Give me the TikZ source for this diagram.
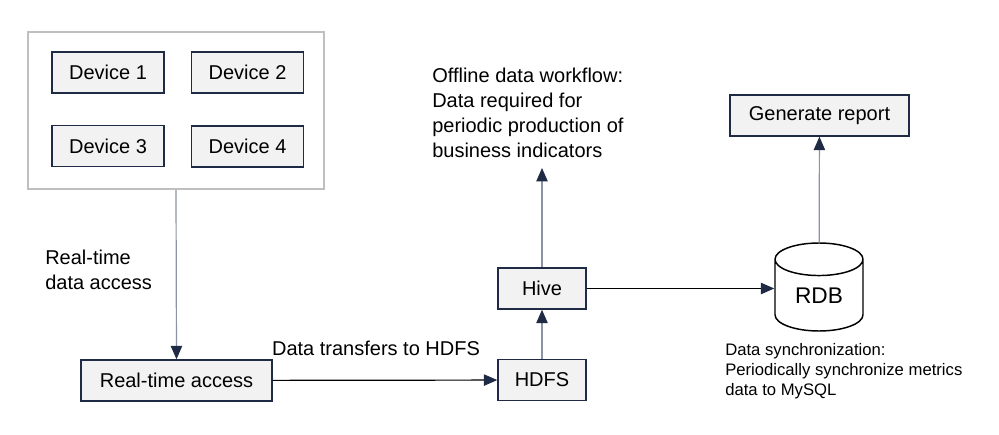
\documentclass[tikz,border=0pt]{standalone}
\usepackage{fontspec}
\setmainfont{Liberation Sans}
\usetikzlibrary{arrows.meta,shapes.geometric}
\definecolor{boxfill}{HTML}{F2F2F2}
\definecolor{boxline}{HTML}{1F2A44}
\definecolor{frameline}{HTML}{BFBFBF}
\definecolor{flowline}{HTML}{8C93A3}
\tikzset{
    block/.style={draw=boxline,fill=boxfill,line width=1.1pt,minimum height=30.75pt,inner sep=0pt},
    frame/.style={draw=frameline,line width=1.5pt,minimum width=222pt,minimum height=117.75pt},
    database/.style={cylinder,shape border rotate=90,draw=black,line width=1.1pt,aspect=0.68,minimum width=66pt,minimum height=66pt,inner sep=0pt,font=\fontsize{17}{20}\selectfont},
    flow/.style={-{Triangle[length=10pt,width=8.5pt,color=boxline]},draw=flowline,line width=0.9pt},
    hflow/.style={flow,draw=black},
    note/.style={align=left,inner sep=0pt,anchor=north west},
    smallnote/.style={note,font=\fontsize{12.5}{15}\selectfont}
}
\begin{document}
\begin{tikzpicture}[x=0.75pt,y=-0.75pt,font=\fontsize{15}{18.75}\selectfont]
\useasboundingbox (0,0) rectangle (999,435);

\node[frame] (devices) at (176,110.5) {};
\node[block,minimum width=84pt] (dev1) at (108,72.5) {Device 1};
\node[block,minimum width=84pt] (dev2) at (247.5,72.5) {Device 2};
\node[block,minimum width=84pt] (dev3) at (108,146) {Device 3};
\node[block,minimum width=84pt] (dev4) at (247.5,146.5) {Device 4};

\node[block,minimum width=143.25pt] (access) at (176.5,380.5) {Real-time access};
\node[block,minimum width=66pt] (hdfs) at (542,380) {HDFS};
\node[block,minimum width=66pt] (hive) at (542,288.5) {Hive};
\node[database] (rdb) at (819,295.5) {RDB};
\node[block,minimum width=134.25pt] (report) at (819.5,115.5) {Generate report};

\node[note] (accesslabel) at (45,250) {Real-time\\data access};
\node (transferlabel) at (376,348) {Data transfers to HDFS};
\node[note] (offline) at (432,68) {Offline data workflow:\\Data required for\\periodic production of\\business indicators};
\node[smallnote] (sync) at (725,343) {Data synchronization:\\Periodically synchronize metrics\\data to MySQL};
\coordinate (offlinetip) at (542,168);

\draw[flow] (devices.south) -- (access.north);
\draw[hflow] (access) -- (hdfs);
\draw[flow] (hdfs) -- (hive);
\draw[flow] (hive) -- (offlinetip);
\draw[hflow] (hive.east) -- (hive.east -| rdb.west);
\draw[flow] (rdb) -- (report);

\end{tikzpicture}
\end{document}
